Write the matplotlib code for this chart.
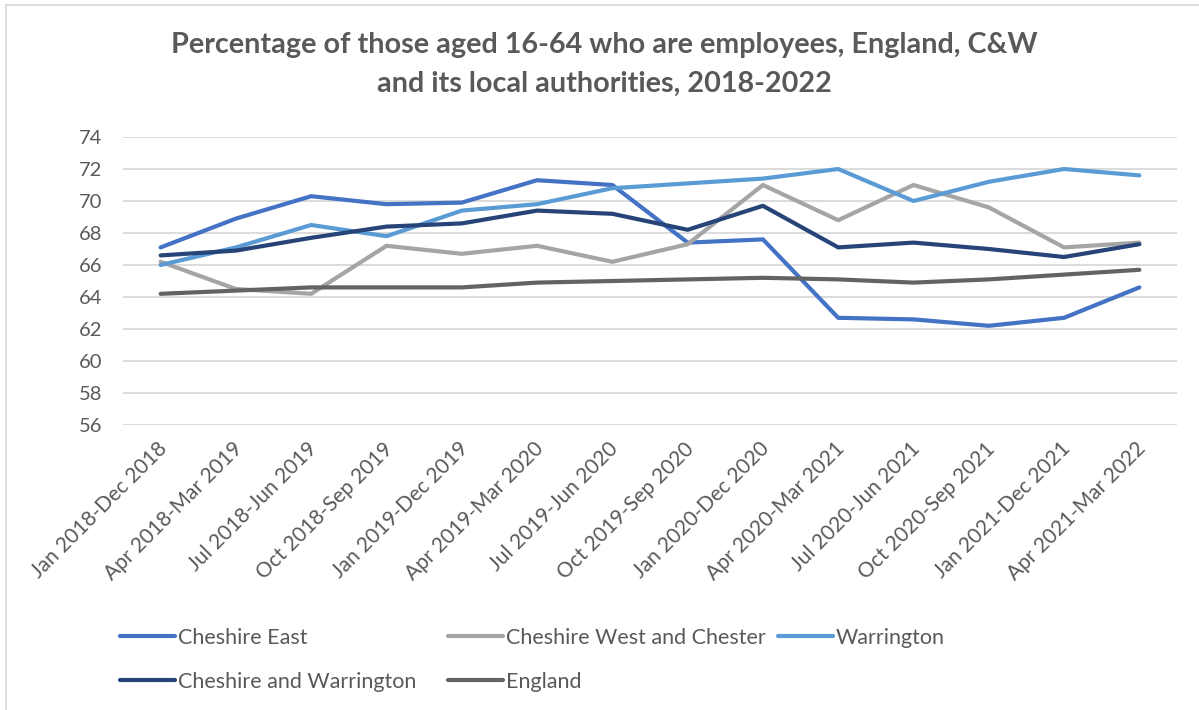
import matplotlib
matplotlib.use("Agg")
import matplotlib.pyplot as plt
import matplotlib.transforms as mtransforms
from matplotlib.lines import Line2D

plt.rcParams['font.family'] = ['Lato', 'DejaVu Sans']

categories = ["Jan 2018-Dec 2018", "Apr 2018-Mar 2019", "Jul 2018-Jun 2019", "Oct 2018-Sep 2019",
              "Jan 2019-Dec 2019", "Apr 2019-Mar 2020", "Jul 2019-Jun 2020", "Oct 2019-Sep 2020",
              "Jan 2020-Dec 2020", "Apr 2020-Mar 2021", "Jul 2020-Jun 2021", "Oct 2020-Sep 2021",
              "Jan 2021-Dec 2021", "Apr 2021-Mar 2022"]

cheshire_east = [67.1, 68.9, 70.3, 69.8, 69.9, 71.3, 71.0, 67.4, 67.6, 62.7, 62.6, 62.2, 62.7, 64.6]
cheshire_west = [66.2, 64.5, 64.2, 67.2, 66.7, 67.2, 66.2, 67.3, 71.0, 68.8, 71.0, 69.6, 67.1, 67.4]
warrington = [66.0, 67.1, 68.5, 67.8, 69.4, 69.8, 70.8, 71.1, 71.4, 72.0, 70.0, 71.2, 72.0, 71.6]
cheshire_warrington = [66.6, 66.9, 67.7, 68.4, 68.6, 69.4, 69.2, 68.2, 69.7, 67.1, 67.4, 67.0, 66.5, 67.3]
england = [64.2, 64.4, 64.6, 64.6, 64.6, 64.9, 65.0, 65.1, 65.2, 65.1, 64.9, 65.1, 65.4, 65.7]

series = [
    ("Cheshire East", cheshire_east, "#4472C4"),
    ("Cheshire West and Chester", cheshire_west, "#A5A5A5"),
    ("Warrington", warrington, "#5B9BD5"),
    ("Cheshire and Warrington", cheshire_warrington, "#264478"),
    ("England", england, "#636363"),
]

text_color = "#595959"

fig = plt.figure(figsize=(11.99, 7.10), dpi=100)
ax = fig.add_axes([123/1199, 1-425/710, (1177-123)/1199, (425-137)/710])

x = list(range(len(categories)))
handles = {}
for name, vals, col in series:
    ln, = ax.plot(x, vals, color=col, lw=3.0, solid_capstyle='round', solid_joinstyle='round', label=name)
    handles[name] = ln

ax.set_xlim(-0.5, len(categories) - 0.5)
ax.set_ylim(56, 74)
ax.set_yticks(range(56, 75, 2))
ax.yaxis.grid(True, color="#D9D9D9", lw=1.3)
ax.set_axisbelow(True)
for s in ax.spines.values():
    s.set_visible(False)
ax.tick_params(axis='both', length=0, labelcolor=text_color)
ax.tick_params(axis='y', pad=15, labelsize=14.5)
ax.set_xticks(x)
ax.set_xticklabels(categories, rotation=45, ha='right', rotation_mode='anchor', va='center')
ax.tick_params(axis='x', pad=15, labelsize=15)
offset = mtransforms.ScaledTranslation(3/100, 0, fig.dpi_scale_trans)
for lbl in ax.get_xticklabels():
    lbl.set_transform(lbl.get_transform() + offset)

fig.text(604.5/1199, 1-45/710, "Percentage of those aged 16-64 who are employees, England, C&W",
         ha='center', va='center', fontsize=20.7, fontweight='bold', color=text_color)
fig.text(604.5/1199, 1-84/710, "and its local authorities, 2018-2022",
         ha='center', va='center', fontsize=20.7, fontweight='bold', color=text_color)

legend_columns = [
    (["Cheshire East", "Cheshire and Warrington"], 120),
    (["Cheshire West and Chester", "England"], 448),
    (["Warrington"], 778),
]
for names, xpix in legend_columns:
    leg = fig.legend([handles[n] for n in names], names, ncol=1, loc='upper left',
                     bbox_to_anchor=(xpix/1199, 1-628/710), frameon=False, fontsize=15.5,
                     handlelength=2.55, handletextpad=0.15, labelspacing=1.1,
                     borderaxespad=0, borderpad=0)
    for t in leg.get_texts():
        t.set_color(text_color)

fig.add_artist(Line2D([6/1199, 6/1199], [0, 1-5/710], color="#D9D9D9", lw=1.2))
fig.add_artist(Line2D([6/1199, 1], [1-5/710, 1-5/710], color="#D9D9D9", lw=1.2))

fig.savefig("out.png", dpi=100)
